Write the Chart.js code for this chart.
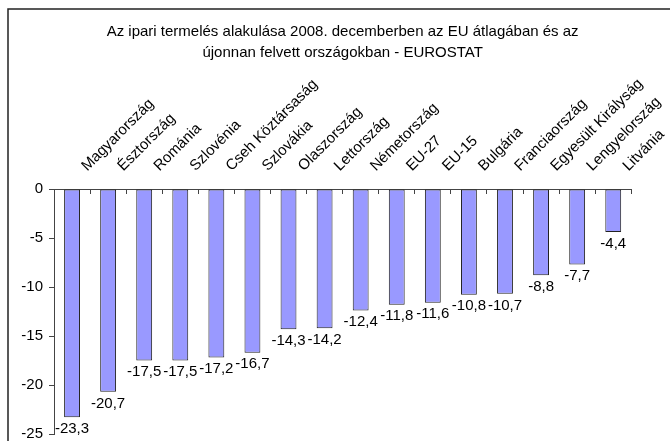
<!DOCTYPE html>
<html lang="hu">
<head>
<meta charset="utf-8">
<title>Ipari termelés 2008. december</title>
<script src="https://cdn.jsdelivr.net/npm/chart.js@4.4.1/dist/chart.umd.min.js"></script>
<style>
    html, body { margin: 0; padding: 0; background: #fff; overflow: hidden; }
    #chart-wrap { position: relative; width: 670px; height: 441px; }
</style>
</head>
<body>
<div id="chart-wrap">
    <canvas id="industryChart" width="670" height="441"></canvas>
</div>
<script>
// --- Data ---
const countries = [
    'Magyarország', 'Észtország', 'Románia', 'Szlovénia', 'Cseh Köztársaság',
    'Szlovákia', 'Olaszország', 'Lettország', 'Németország', 'EU-27',
    'EU-15', 'Bulgária', 'Franciaország', 'Egyesült Királyság', 'Lengyelország', 'Litvánia'
];
const changes = [-23.3, -20.7, -17.5, -17.5, -17.2, -16.7, -14.3, -14.2, -12.4, -11.8, -11.6, -10.8, -10.7, -8.8, -7.7, -4.4];
const titleLines = [
    'Az ipari termelés alakulása 2008. decemberben az EU átlagában és az',
    'újonnan felvett országokban - EUROSTAT'
];

const FONT = '"Liberation Sans", Arial, sans-serif';
const AXIS_COLOR = '#444';

// Frame around the whole chart (cropped on the right and bottom like the original)
const framePlugin = {
    id: 'frame',
    beforeDraw(chart) {
        const ctx = chart.ctx;
        ctx.save();
        ctx.strokeStyle = '#222';
        ctx.lineWidth = 1.5;
        ctx.strokeRect(8, 9, 720, 480);
        ctx.restore();
    }
};

// Value labels under the end of each bar, with decimal comma
const valueLabels = {
    id: 'valueLabels',
    afterDatasetsDraw(chart) {
        const ctx = chart.ctx;
        const meta = chart.getDatasetMeta(0);
        ctx.save();
        ctx.font = '15px ' + FONT;
        ctx.fillStyle = '#000';
        ctx.textAlign = 'center';
        ctx.textBaseline = 'top';
        meta.data.forEach((bar, i) => {
            const txt = changes[i].toFixed(1).replace('.', ',');
            ctx.fillText(txt, bar.x, bar.y + 4);
        });
        ctx.restore();
    }
};

const ctx = document.getElementById('industryChart');
new Chart(ctx, {
    type: 'bar',
    data: {
        labels: countries,
        datasets: [{
            data: changes,
            backgroundColor: '#9999FF',
            borderColor: '#222',
            borderWidth: 1,
            borderSkipped: false,
            categoryPercentage: 1,
            barPercentage: 0.44
        }]
    },
    options: {
        responsive: false,
        animation: false,
        devicePixelRatio: 1,
        layout: { padding: { left: 0, right: 30, top: 0, bottom: 7 } },
        plugins: {
            legend: { display: false },
            tooltip: { enabled: false },
            title: {
                display: true,
                fullSize: false,
                text: titleLines,
                color: '#000',
                font: { family: FONT, size: 15, weight: 'normal', lineHeight: 1.4 },
                padding: { top: 21, bottom: 0 }
            }
        },
        scales: {
            x: {
                position: 'top',
                grid: {
                    drawOnChartArea: false,
                    color: AXIS_COLOR,
                    tickLength: -5,
                    offset: true
                },
                border: { display: true, color: AXIS_COLOR, width: 1 },
                ticks: {
                    color: '#000',
                    font: { family: FONT, size: 15 },
                    minRotation: 45,
                    maxRotation: 45,
                    autoSkip: false,
                    padding: 19,
                    labelOffset: 25
                },
                afterFit: (scale) => { scale.height = 126; }
            },
            y: {
                min: -25,
                max: 0,
                grid: { drawOnChartArea: false, color: AXIS_COLOR, tickLength: 5 },
                border: { display: true, color: AXIS_COLOR, width: 1 },
                ticks: {
                    stepSize: 5,
                    color: '#000',
                    font: { family: FONT, size: 15 },
                    padding: 6
                },
                afterFit: (scale) => {
                    scale.width = 54;
                    // the "-25" label may hang below the plot like in the original
                    scale.paddingTop = 0;
                    scale.paddingBottom = 0;
                }
            }
        }
    },
    plugins: [framePlugin, valueLabels]
});
</script>
</body>
</html>
